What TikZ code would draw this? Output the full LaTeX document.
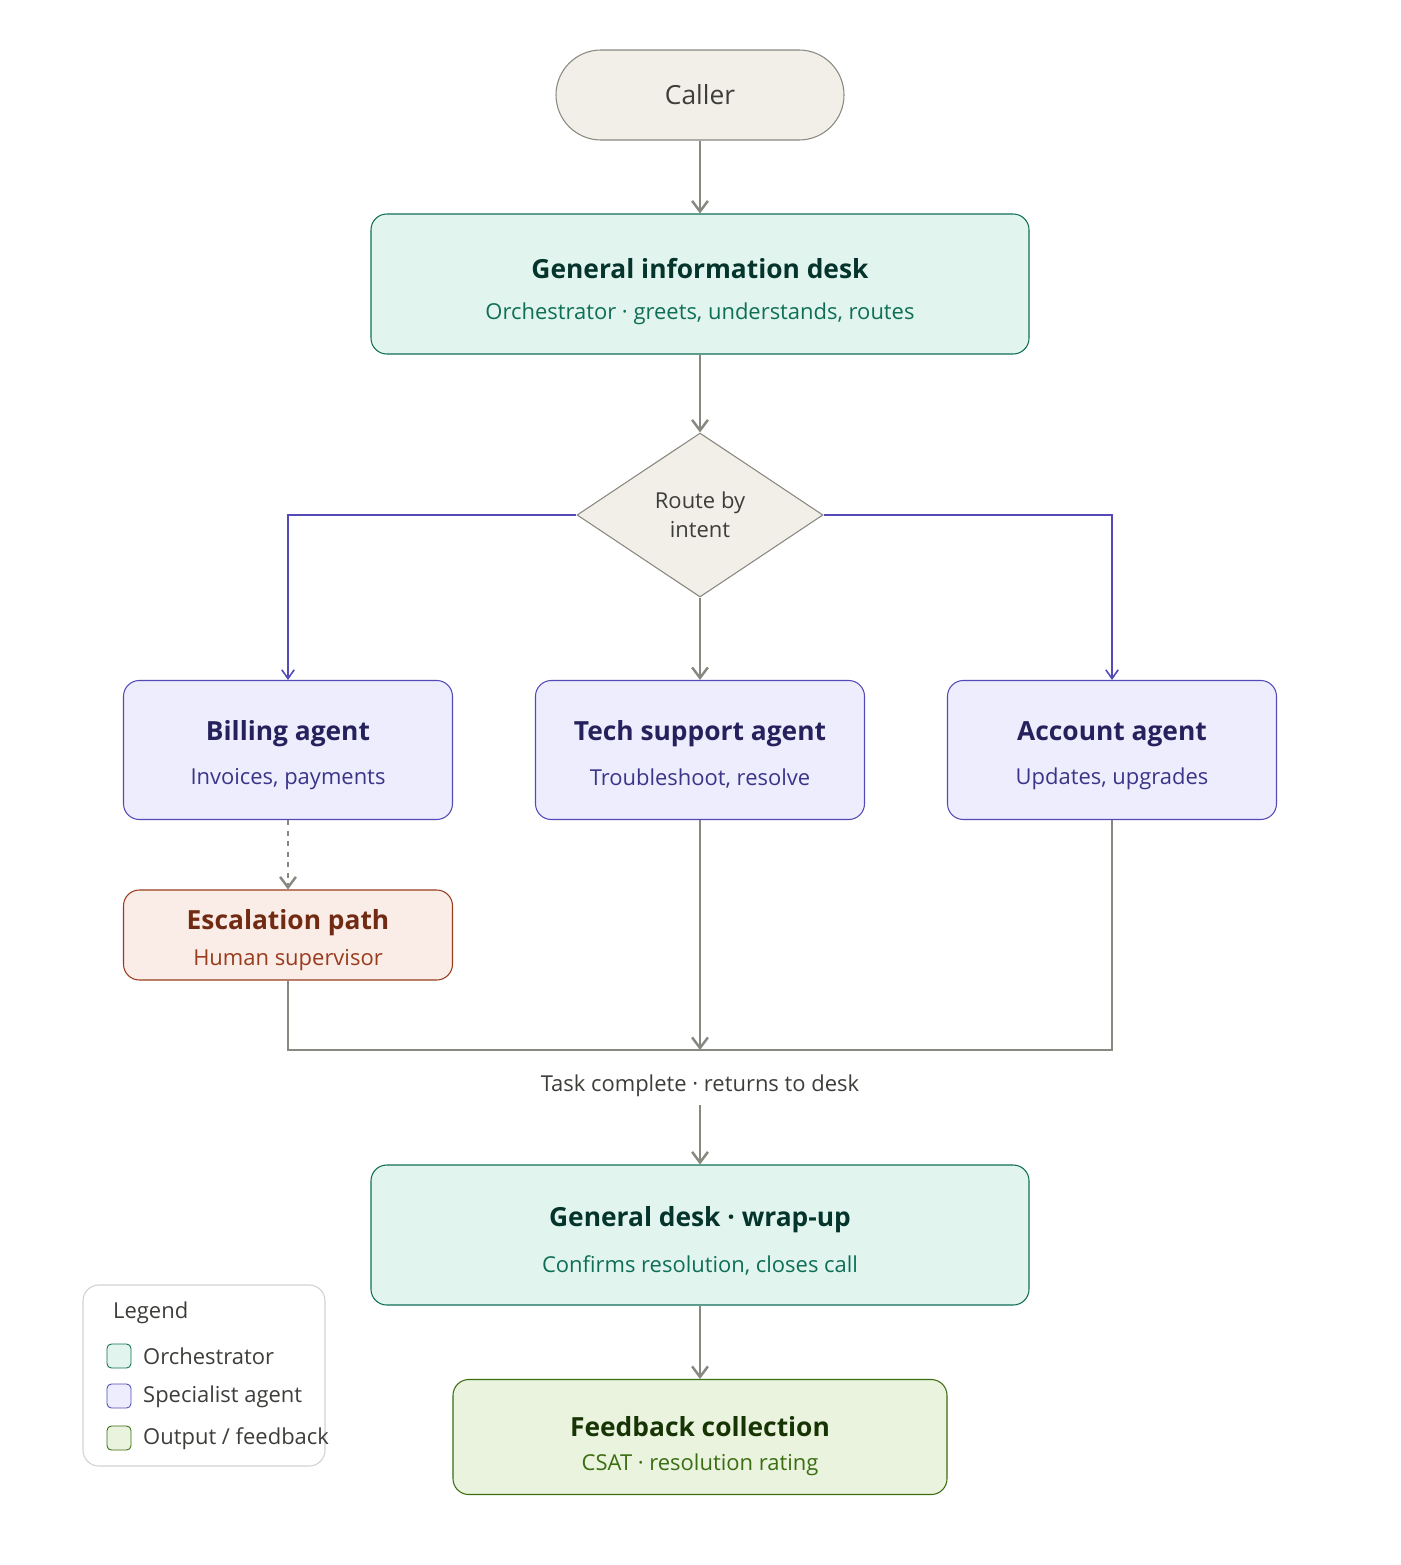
\documentclass[tikz,border=0pt]{standalone}
\usepackage{fontspec}
\setmainfont{Open Sans}
\usetikzlibrary{arrows.meta,shapes.geometric}
\definecolor{linegray}{HTML}{888780}
\definecolor{neutralfill}{HTML}{F1EFE8}
\definecolor{orchfill}{HTML}{E1F5EE}
\definecolor{orchline}{HTML}{0F6E56}
\definecolor{orchtitle}{HTML}{04342C}
\definecolor{specfill}{HTML}{EEEDFE}
\definecolor{specline}{HTML}{534AB7}
\definecolor{spectitle}{HTML}{26215C}
\definecolor{spectext}{HTML}{3C3489}
\definecolor{escfill}{HTML}{FAECE7}
\definecolor{escline}{HTML}{993C1D}
\definecolor{esctitle}{HTML}{712B13}
\definecolor{outfill}{HTML}{EAF3DE}
\definecolor{outline}{HTML}{3B6D11}
\definecolor{outtitle}{HTML}{173404}
\definecolor{darktext}{HTML}{3D3D3A}
\tikzset{
  box/.style={draw, rounded corners=9pt, line width=0.6pt, align=center, inner sep=0pt},
  orch/.style={box, fill=orchfill, draw=orchline, minimum width=658*0.02cm, minimum height=140*0.02cm},
  spec/.style={box, fill=specfill, draw=specline, minimum width=329*0.02cm, minimum height=139*0.02cm},
  title/.style={font=\fontsize{15}{18}\selectfont\bfseries},
  sub/.style={font=\fontsize{12.5}{15}\selectfont},
  flow/.style={draw=linegray, line width=1.4pt, -{Straight Barb[length=6pt,width=9pt]}},
  route/.style={draw=specline, line width=0.9pt, -{Straight Barb[length=5pt,width=7pt]}},
  mergeline/.style={draw=linegray, line width=1pt},
  swatch/.style={draw, rounded corners=2.5pt, line width=0.5pt, minimum size=24*0.02cm, inner sep=0pt}
}
\begin{document}
\begin{tikzpicture}[x=0.02cm,y=-0.02cm]
\useasboundingbox (0,0) rectangle (1400,1565);

% caller and desk
\node[draw=linegray, fill=neutralfill, rounded corners=45*0.02cm, line width=0.6pt,
  minimum width=288*0.02cm, minimum height=90*0.02cm, text=darktext,
  font=\fontsize{15}{18}\selectfont] (caller) at (700,95) {Caller};
\node[orch] (desk) at (700,284) {};
\node[title, text=orchtitle] at (700,269) {General information desk};
\node[sub, text=orchline] at (700,314) {Orchestrator · greets, understands, routes};

\node[diamond, draw=linegray, fill=neutralfill, line width=0.6pt, aspect=1.5,
  minimum width=246*0.02cm, minimum height=164*0.02cm, inner sep=0pt, align=center,
  text=darktext, font=\fontsize{12.5}{16.5}\selectfont] (route) at (700,515) {Route by\\intent};

% specialists
\node[spec] (billing) at (288,750) {};
\node[title, text=spectitle] at (288,734) {Billing agent};
\node[sub, text=spectext] at (288,779) {Invoices, payments};
\node[spec] (tech) at (700,750) {};
\node[title, text=spectitle] at (700,734) {Tech support agent};
\node[sub, text=spectext] at (700,779) {Troubleshoot, resolve};
\node[spec] (account) at (1112,750) {};
\node[title, text=spectitle] at (1112,734) {Account agent};
\node[sub, text=spectext] at (1112,779) {Updates, upgrades};

\node[box, fill=escfill, draw=escline, minimum width=329*0.02cm, minimum height=90*0.02cm] (escalation) at (288,935) {};
\node[title, text=esctitle] at (288,923) {Escalation path};
\node[sub, text=escline] at (288,960) {Human supervisor};

\coordinate (merge) at (700,1050);
\node[sub, text=darktext] (task) at (700,1086) {Task complete · returns to desk};

\node[orch] (wrapup) at (700,1235) {};
\node[title, text=orchtitle] at (700,1220) {General desk · wrap-up};
\node[sub, text=orchline] at (700,1265) {Confirms resolution, closes call};

\node[box, fill=outfill, draw=outline, minimum width=494*0.02cm, minimum height=115*0.02cm] (feedback) at (700,1437) {};
\node[title, text=outtitle] at (700,1427) {Feedback collection};
\node[sub, text=outline] at (700,1465) {CSAT · resolution rating};

% connectors
\draw[flow] (caller) -- (desk);
\draw[flow] (desk) -- (route);
\draw[route] (route.west) -| (billing.north);
\draw[route] (route.east) -| (account.north);
\draw[flow] (route) -- (tech);
\draw[flow, dashed] (billing) -- (escalation);
\draw[mergeline] (escalation.south) |- (merge);
\draw[mergeline] (account.south) |- (merge);
\draw[flow] (tech) -- (merge);
\draw[flow] (task.south) ++(0,2) -- (wrapup);
\draw[flow] (wrapup) -- (feedback);

% legend
\draw[draw=black!18, rounded corners=9pt, line width=0.6pt] (83,1285) rectangle (325,1466);
\node[anchor=west, sub, text=darktext] at (107,1313) {Legend};
\node[swatch, fill=orchfill, draw=orchline] (sw1) at (119,1356) {};
\node[anchor=west, sub, text=darktext] at (137,1356) {Orchestrator};
\node[swatch, fill=specfill, draw=specline] (sw2) at (119,1396) {};
\node[anchor=west, sub, text=darktext] at (137,1397) {Specialist agent};
\node[swatch, fill=outfill, draw=outline] (sw3) at (119,1438) {};
\node[anchor=west, sub, text=darktext] at (137,1439) {Output / feedback};
\end{tikzpicture}
\end{document}
